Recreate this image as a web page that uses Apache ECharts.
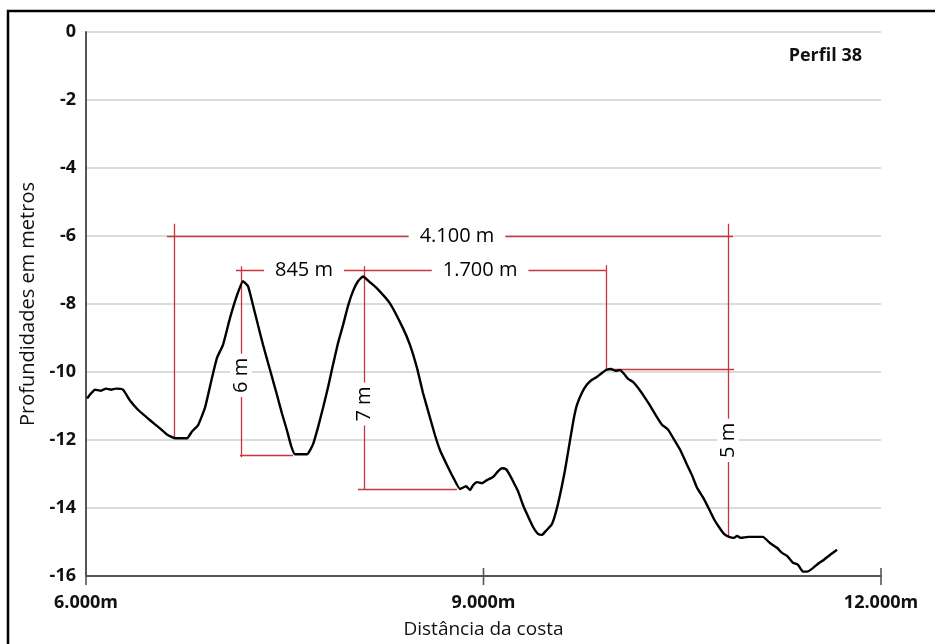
<!DOCTYPE html>
<html>
<head>
<meta charset="utf-8">
<script src="https://cdn.jsdelivr.net/npm/echarts@6/dist/echarts.min.js"></script>
<style>
html,body{margin:0;padding:0;background:#fff;}
#c{width:935px;height:644px;}
</style>
</head>
<body>
<div id="c"></div>
<script>
// Distance from coast (m) and depth (m) of Perfil 38
const distances = [6008,6038,6068,6113,6151,6189,6226,6279,6332,6392,6460,6521,6558,6611,6672,6762,6800,6845,6898,6951,6989,7034,7087,7140,7185,7223,7260,7298,7336,7389,7441,7479,7517,7547,7577,7668,7713,7751,7789,7826,7864,7902,7940,7977,8015,8053,8091,8143,8196,8294,8392,8445,8498,8543,8596,8634,8672,8725,8770,8823,8868,8898,8921,8951,8989,9026,9072,9109,9140,9170,9200,9230,9260,9298,9328,9374,9411,9441,9472,9517,9562,9615,9653,9683,9706,9743,9781,9819,9857,9887,9925,9962,10000,10030,10060,10091,10128,10166,10204,10257,10302,10347,10392,10430,10483,10528,10574,10611,10657,10702,10740,10777,10815,10853,10891,10913,10943,10996,11049,11109,11162,11215,11253,11291,11336,11374,11411,11442,11479,11525,11570,11615,11668];
const depths = [-10.78,-10.63,-10.52,-10.55,-10.49,-10.52,-10.49,-10.52,-10.84,-11.11,-11.34,-11.54,-11.66,-11.84,-11.95,-11.95,-11.75,-11.57,-11.05,-10.17,-9.58,-9.20,-8.41,-7.74,-7.33,-7.48,-8.03,-8.62,-9.20,-9.94,-10.67,-11.22,-11.72,-12.16,-12.42,-12.42,-12.13,-11.63,-11.05,-10.46,-9.79,-9.15,-8.62,-8.06,-7.62,-7.33,-7.19,-7.36,-7.54,-7.98,-8.71,-9.20,-9.88,-10.61,-11.34,-11.86,-12.30,-12.74,-13.09,-13.44,-13.36,-13.47,-13.33,-13.24,-13.27,-13.18,-13.09,-12.92,-12.83,-12.86,-13.04,-13.27,-13.50,-13.91,-14.18,-14.56,-14.76,-14.79,-14.67,-14.47,-13.88,-12.89,-12.01,-11.34,-10.96,-10.61,-10.37,-10.23,-10.14,-10.05,-9.94,-9.91,-9.97,-9.94,-10.05,-10.20,-10.29,-10.46,-10.67,-10.99,-11.28,-11.55,-11.69,-11.93,-12.28,-12.66,-13.04,-13.40,-13.69,-14.03,-14.33,-14.56,-14.76,-14.85,-14.88,-14.82,-14.88,-14.85,-14.85,-14.85,-15.03,-15.17,-15.32,-15.41,-15.61,-15.67,-15.87,-15.87,-15.79,-15.64,-15.52,-15.38,-15.23];

// Axis ticks
const xTicks = [6000, 9000, 12000];
const yTicks = [0, -2, -4, -6, -8, -10, -12, -14, -16];

// Measurement annotation segments: [x1, y1, x2, y2]
const annoSegments = [
  [6611, -6.0, 10883, -6.0],
  [6664, -5.64, 6664, -11.95],
  [10845, -5.64, 10845, -14.85],
  [7132, -7.01, 9925, -7.01],
  [7170, -6.89, 7170, -12.51],
  [7162, -12.45, 7562, -12.45],
  [8098, -6.89, 8098, -13.47],
  [8053, -13.44, 8800, -13.44],
  [9925, -6.86, 9925, -9.91],
  [9925, -9.91, 10891, -9.91]
];
// Annotation labels: [x, y, text, rotation]
const annoLabels = [
  [8800, -6.0, '4.100 m', 0],
  [7645, -7.01, '845 m', 0],
  [8974, -7.01, '1.700 m', 0],
  [7170, -10.1, '6 m', 90],
  [8098, -10.94, '7 m', 90],
  [10845, -12.01, '5 m', 90]
];

const fmtThousands = v => String(v).replace(/\B(?=(\d{3})+(?!\d))/g, '.') + 'm';
const RED = '#c9343d';
const FONT = '"Open Sans", "DejaVu Sans", sans-serif';

const chart = echarts.init(document.getElementById('c'), null, {renderer: 'canvas'});
chart.setOption({
  animation: false,
  backgroundColor: '#fff',
  textStyle: {fontFamily: FONT},
  grid: {left: 86, right: 54, top: 32, bottom: 64.5, containLabel: false},
  title: {
    text: 'Perfil 38', right: 68, top: 42,
    textStyle: {fontFamily: FONT, fontWeight: 'bold', fontSize: 18, color: '#111'}
  },
  graphic: [{
    type: 'rect', shape: {x: 8, y: 11, width: 960, height: 700},
    style: {fill: 'none', stroke: '#000', lineWidth: 2.5}, z: 100
  }],
  xAxis: {
    type: 'value', min: 6000, max: 12000, interval: 3000,
    name: 'Distância da costa', nameLocation: 'middle', nameGap: 44,
    nameTextStyle: {fontFamily: FONT, fontSize: 19, color: '#111'},
    axisLine: {show: true, onZero: false, lineStyle: {color: '#555', width: 2}},
    axisTick: {show: false},
    axisLabel: {show: true, margin: 18, fontFamily: FONT, fontSize: 18, fontWeight: 'bold', color: '#111',
      formatter: fmtThousands},
    splitLine: {show: false}
  },
  yAxis: {
    type: 'value', min: -16, max: 0, interval: 2,
    name: 'Profundidades em metros', nameLocation: 'middle', nameGap: 46,
    nameTextStyle: {fontFamily: FONT, fontSize: 20, color: '#111'},
    axisLine: {show: true, onZero: false, lineStyle: {color: '#555', width: 2}},
    axisTick: {show: false},
    axisLabel: {margin: 10, fontFamily: FONT, fontSize: 18, fontWeight: 'bold', color: '#111'},
    splitLine: {show: true, lineStyle: {color: '#cfcfcf', width: 1.6}}
  },
  series: [
    {
      // cross-shaped x-axis ticks at the tick values
      type: 'custom', silent: true, z: 6,
      data: xTicks.map(v => [v, -16]),
      renderItem: (params, api) => {
        const p = api.coord([api.value(0), api.value(1)]);
        return {type: 'line', shape: {x1: p[0], y1: p[1] - 8, x2: p[0], y2: p[1] + 9},
          style: {stroke: '#555', lineWidth: 1.6}};
      }
    },
    {
      type: 'lines', coordinateSystem: 'cartesian2d', xAxisIndex: 0, yAxisIndex: 0,
      silent: true, z: 3,
      lineStyle: {color: RED, width: 1.3, opacity: 1},
      data: annoSegments.map(s => ({coords: [[s[0], s[1]], [s[2], s[3]]]}))
    },
    {
      type: 'line', xAxisIndex: 0, yAxisIndex: 0, z: 4,
      showSymbol: false, symbol: 'none', smooth: 0.15,
      lineStyle: {color: '#000', width: 2.4},
      data: distances.map((d, i) => [d, depths[i]])
    },
    {
      type: 'scatter', xAxisIndex: 0, yAxisIndex: 0, z: 5,
      symbolSize: 0, silent: true,
      itemStyle: {opacity: 1},
      data: annoLabels.map(l => ({value: [l[0], l[1]], name: l[2],
        label: {rotate: l[3], padding: l[3] ? [0, 4, 0, 4] : [0, 11, 0, 11]}})),
      label: {
        show: true, position: 'inside', formatter: p => p.name, opacity: 1,
        fontFamily: FONT, fontSize: 20, color: '#000', fontWeight: 500,
        textBorderWidth: 0, backgroundColor: '#fff', lineHeight: 22
      }
    }
  ]
});
</script>
</body>
</html>
